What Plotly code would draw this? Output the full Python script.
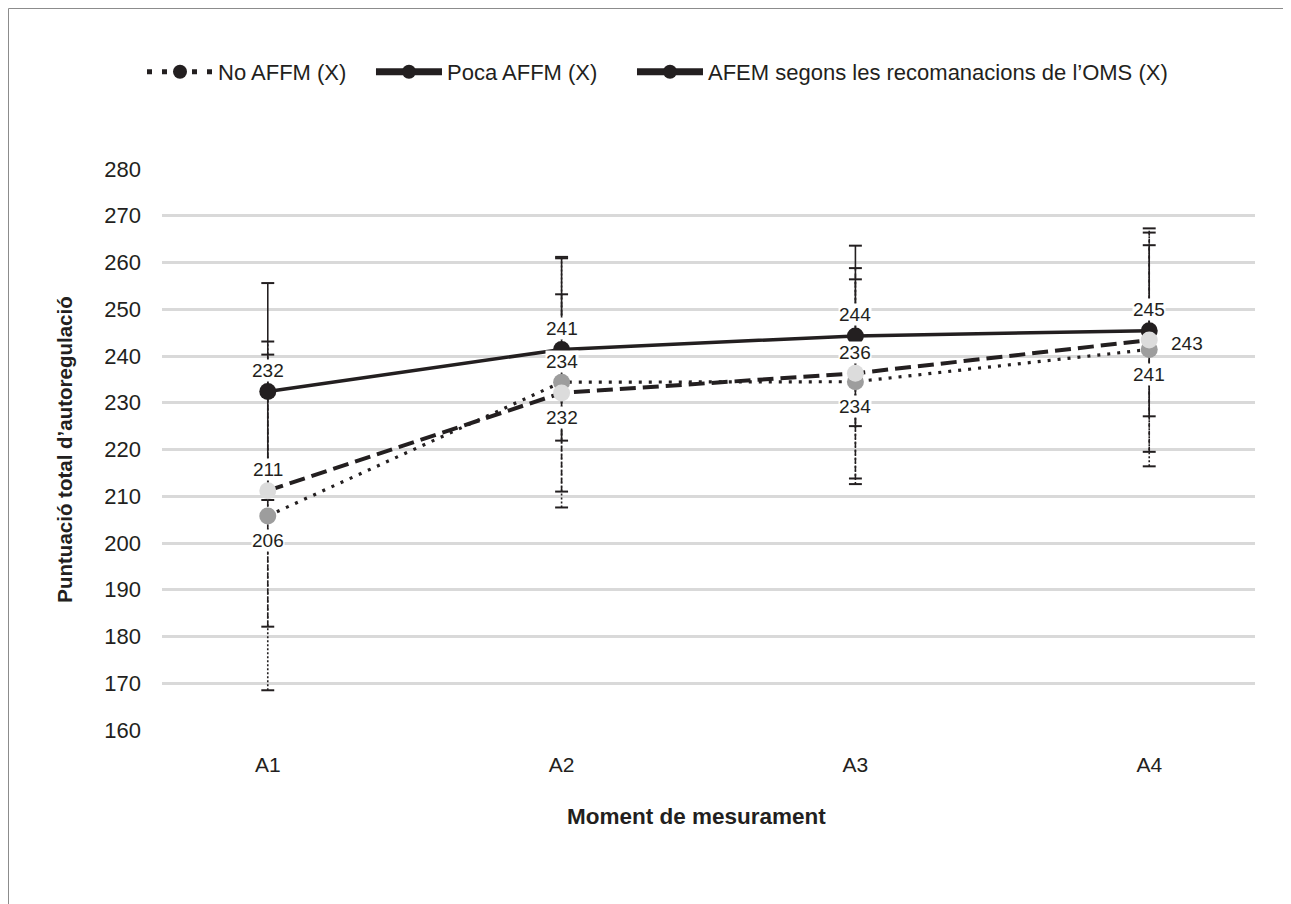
import plotly.graph_objects as go

# ---------------- data ----------------
categories = ["A1", "A2", "A3", "A4"]
series_names = ["No AFFM (X)", "Poca AFFM (X)", "AFEM segons les recomanacions de l\u2019OMS (X)"]

no_affm_mean = [205.8, 234.4, 234.5, 241.4]
no_affm_sd = [37.3, 26.8, 21.9, 25.0]

poca_mean = [211.2, 232.1, 236.3, 243.4]
poca_sd = [29.1, 21.1, 22.5, 23.9]

afem_mean = [232.4, 241.4, 244.3, 245.4]
afem_sd = [23.2, 19.5, 19.3, 18.3]

y_ticks = [160, 170, 180, 190, 200, 210, 220, 230, 240, 250, 260, 270, 280]

# ---------------- styles ----------------
INK = "#231f20"
FONT = "Liberation Sans, Arial, Helvetica, sans-serif"

styles = [
    dict(mean=no_affm_mean, sd=no_affm_sd, marker="#9d9d9d", dash="3px,7px", width=3.2,
         err_dash="2px,2px", labels=["bottom", "top", "bottom", "bottom"],
         leg_dash="5px,10px", leg_width=5, legend="legend"),
    dict(mean=poca_mean, sd=poca_sd, marker="#dcdcdc", dash="16px,7px", width=4,
         err_dash="5px,3px", labels=["top", "bottom", "top", "right"],
         leg_dash="solid", leg_width=7, legend="legend2"),
    dict(mean=afem_mean, sd=afem_sd, marker=INK, dash="solid", width=3.5,
         err_dash="solid", labels=["top", "top", "top", "top"],
         leg_dash="solid", leg_width=7, legend="legend3"),
]

x_idx = list(range(len(categories)))
cap = 0.022  # half cap width in x units

fig = go.Figure()

# error bars (drawn first, in series order so the solid one is on top)
for st in styles:
    sx, sy, cx, cy = [], [], [], []
    for i, (m, s) in enumerate(zip(st["mean"], st["sd"])):
        lo, hi = m - s, m + s
        sx += [i, i, None]
        sy += [lo, hi, None]
        cx += [i - cap, i + cap, None, i - cap, i + cap, None]
        cy += [hi, hi, None, lo, lo, None]
    fig.add_trace(go.Scatter(x=sx, y=sy, mode="lines", showlegend=False, hoverinfo="skip",
                             line=dict(color=INK, width=1.6, dash=st["err_dash"])))
    fig.add_trace(go.Scatter(x=cx, y=cy, mode="lines", showlegend=False, hoverinfo="skip",
                             line=dict(color=INK, width=2)))

# lines + markers (AFEM first so grey markers sit on top of it)
for k in [2, 0, 1]:
    st = styles[k]
    fig.add_trace(go.Scatter(
        x=x_idx, y=st["mean"], mode="lines+markers", showlegend=False,
        name=series_names[k],
        line=dict(color=INK, width=st["width"], dash=st["dash"]),
        marker=dict(color=st["marker"], size=17, line=dict(width=0)),
    ))

# legend entries (one legend per entry so each can be placed like the original)
for k, st in enumerate(styles):
    fig.add_trace(go.Scatter(
        x=[None], y=[None], mode="lines+markers", name=series_names[k],
        legend=st["legend"],
        line=dict(color=INK, width=st["leg_width"], dash=st["leg_dash"]),
        marker=dict(color=INK, size=14),
    ))

# data labels
shift = {"top": (0, 21), "bottom": (0, -25), "right": (38, -3)}
annotations = []
for st in styles:
    for i, m in enumerate(st["mean"]):
        dx, dy = shift[st["labels"][i]]
        annotations.append(dict(
            x=i, y=m, xref="x", yref="y", text=f"{m:.0f}", showarrow=False,
            xshift=dx, yshift=dy, bgcolor="white", borderpad=0,
            font=dict(size=19, color=INK, family=FONT),
        ))

# x axis title (placed as in the original, slightly left of centre)
annotations.append(dict(
    text="<b>Moment de mesurament</b>", xref="paper", yref="paper",
    x=0.4886, y=-0.1533, xanchor="center", yanchor="middle", showarrow=False,
    font=dict(size=22.5, color=INK, family=FONT),
))

leg_common = dict(orientation="h", xanchor="left", y=1.173, yanchor="middle",
                  font=dict(size=22, color=INK, family=FONT), itemwidth=66,
                  bgcolor="rgba(0,0,0,0)", borderwidth=0)

fig.update_layout(
    width=1283, height=896,
    margin=dict(l=154, r=36, t=161, b=174),
    paper_bgcolor="white", plot_bgcolor="white",
    font=dict(family=FONT, color=INK, size=19),
    annotations=annotations,
    legend=dict(x=-0.0183, **leg_common),
    legend2=dict(x=0.1912, **leg_common),
    legend3=dict(x=0.430, **leg_common),
    shapes=[dict(type="rect", xref="paper", yref="paper",
                 x0=-153.5 / 1093, x1=(1283 - 154 - 0.5) / 1093,
                 y0=-0.40, y1=(561 + 161 - 0.5) / 561,
                 line=dict(color="#8c8c8c", width=1), fillcolor="rgba(0,0,0,0)", layer="below")],
    xaxis=dict(range=[-0.36, 3.36], tickvals=x_idx, ticktext=categories,
               showgrid=False, zeroline=False, showline=False,
               ticks="", ticklabelstandoff=20, tickfont=dict(size=21, color=INK)),
    yaxis=dict(range=[160, 280], tickvals=y_ticks, showgrid=True, gridcolor="#d9d9d9",
               gridwidth=2.5, zeroline=False, showline=False, ticks="",
               ticklabelstandoff=20, tickfont=dict(size=22, color=INK),
               title=dict(text="<b>Puntuació total d\u2019autoregulació</b>", standoff=26,
                          font=dict(size=20.5, color=INK))),
)

fig.write_html("out.html")
